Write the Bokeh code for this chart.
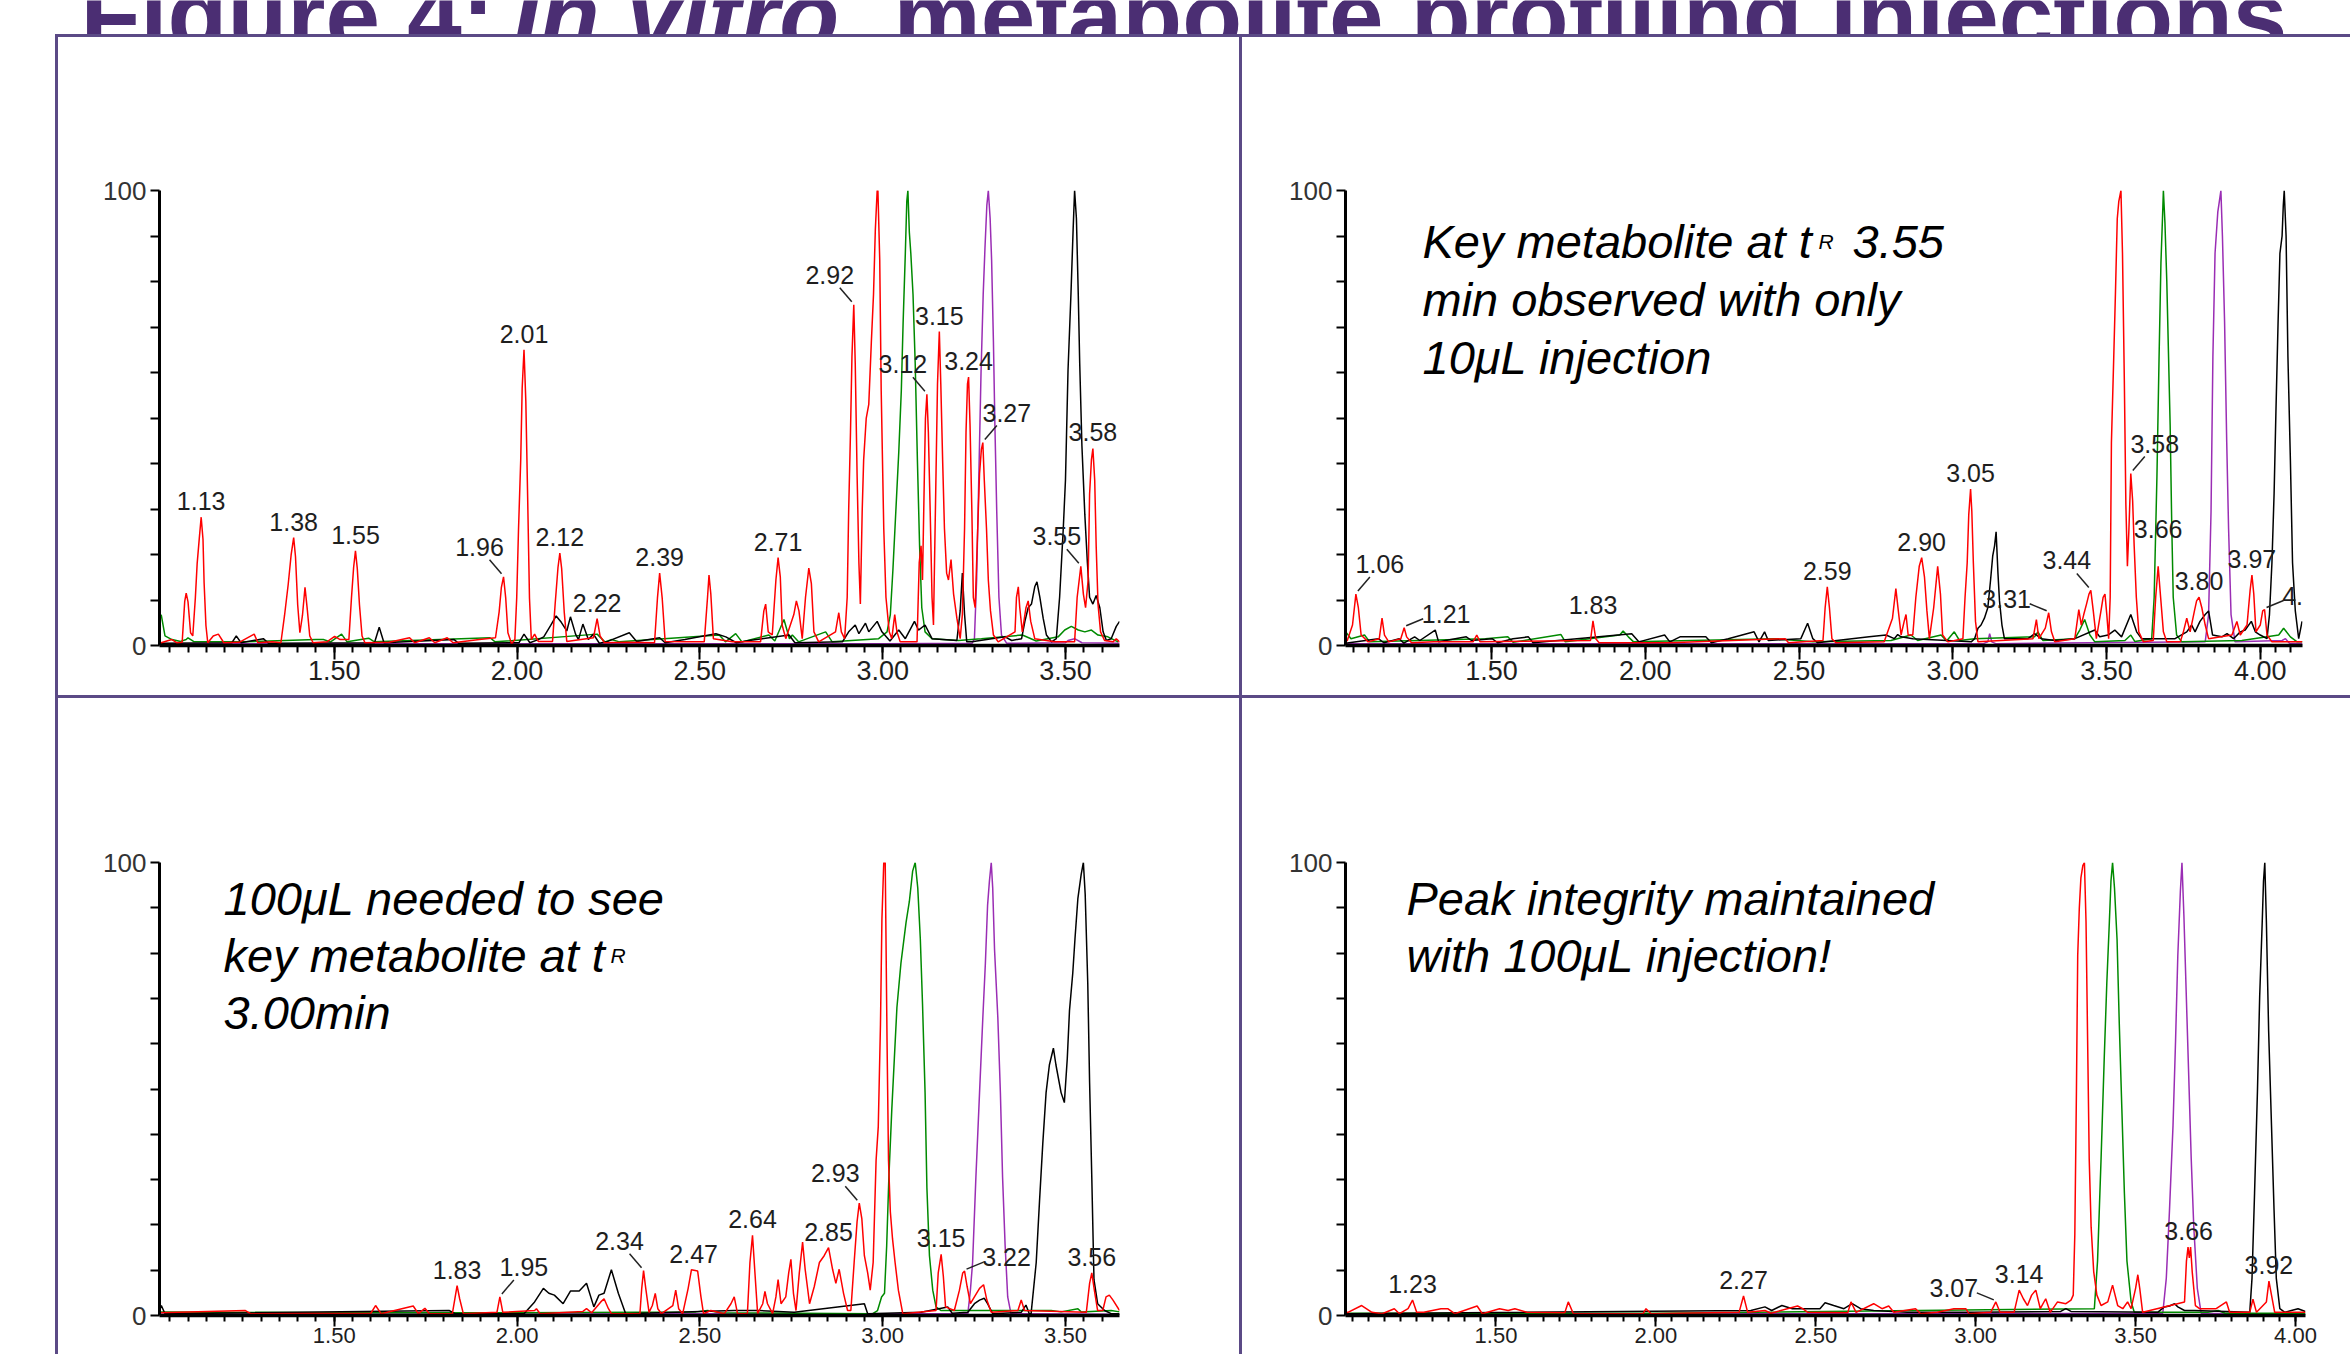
import math
from bokeh.plotting import figure
from bokeh.models import (Range1d, FixedTicker, CustomJSTickFormatter, Label, LabelSet,
                          ColumnDataSource, Div)
from bokeh.layouts import row
from bokeh.embed import file_html
from bokeh.resources import INLINE
from bokeh.core.properties import value

# ------------------------------------------------------------------ data
TITLE_PARTS = ["Figure 4:", "In vitro", "metabolite profiling injections"]
X_MAJOR = [1.5, 2.0, 2.5, 3.0, 3.5, 4.0]
X_MINOR = [round(1.05 + 0.05 * i, 2) for i in range(0, 62)]
Y_MAJOR = [0, 100]
Y_MINOR = [10, 20, 30, 40, 50, 60, 70, 80, 90]

# --- No dilution, 10 uL
TL_RED = [(1.022,0.5),(1.042,1.0),(1.056,1.3),(1.070,0.6),(1.084,0.7),(1.091,9.7),(1.095,11.5),(1.100,9.6),(1.107,2.8),(1.113,2.1),(1.120,10.4),(1.125,18.0),(1.131,23.7),(1.136,28.2),(1.141,23.3),(1.144,13.8),(1.149,4.4),(1.154,0.6),(1.169,2.1),(1.183,2.5),(1.198,0.6),(1.240,0.7),(1.281,2.5),(1.291,0.6),(1.330,0.8),(1.354,0.6),(1.364,6.6),(1.374,13.4),(1.382,19.9),(1.389,23.7),(1.394,19.5),(1.400,8.9),(1.406,2.8),(1.413,6.6),(1.420,12.8),(1.426,8.1),(1.433,2.1),(1.442,0.6),(1.480,0.8),(1.501,2.0),(1.516,1.3),(1.540,1.3),(1.547,10.4),(1.553,17.2),(1.558,20.8),(1.563,16.9),(1.569,8.9),(1.576,2.1),(1.584,0.6),(1.650,0.7),(1.706,1.7),(1.720,0.6),(1.760,1.7),(1.775,0.6),(1.809,1.7),(1.825,0.6),(1.897,1.3),(1.941,1.7),(1.951,7.4),(1.957,12.7),(1.963,15.1),(1.969,10.4),(1.975,2.8),(1.985,0.4),(1.994,1.3),(1.999,10.4),(2.004,25.6),(2.010,40.7),(2.014,56.6),(2.019,65.0),(2.024,53.6),(2.029,32.4),(2.034,10.4),(2.039,1.3),(2.048,2.5),(2.058,0.9),(2.097,0.9),(2.104,8.9),(2.112,17.2),(2.117,20.3),(2.122,16.9),(2.129,7.4),(2.136,0.9),(2.209,1.7),(2.219,5.9),(2.227,2.1),(2.239,0.6),(2.300,0.7),(2.376,0.6),(2.384,10.4),(2.390,15.9),(2.397,10.4),(2.405,0.9),(2.460,0.8),(2.512,0.8),(2.521,10.6),(2.525,15.5),(2.530,11.3),(2.537,1.5),(2.589,0.8),(2.666,0.8),(2.675,7.6),(2.680,9.1),(2.687,3.0),(2.698,2.3),(2.708,14.4),(2.714,19.3),(2.720,15.1),(2.725,4.5),(2.735,1.5),(2.757,6.8),(2.764,9.8),(2.771,7.6),(2.780,1.5),(2.789,10.6),(2.798,17.0),(2.805,13.6),(2.812,3.0),(2.825,0.8),(2.871,3.0),(2.880,7.2),(2.887,3.0),(2.896,1.5),(2.903,10.6),(2.907,29.5),(2.912,46.9),(2.916,63.5),(2.921,74.9),(2.925,62.0),(2.930,37.8),(2.935,18.2),(2.939,9.1),(2.944,29.5),(2.948,40.8),(2.955,49.9),(2.962,53.0),(2.969,66.6),(2.975,77.2),(2.980,91.5),(2.985,100),(2.987,100),(2.992,84.7),(2.996,56.0),(3.003,25.7),(3.009,10.6),(3.018,3.0),(3.025,1.5),(3.033,6.8),(3.039,3.0),(3.048,0.8),(3.094,0.8),(3.100,18.2),(3.105,21.9),(3.109,14.4),(3.114,37.1),(3.117,49.9),(3.121,55.2),(3.125,46.9),(3.130,29.5),(3.135,10.6),(3.139,4.5),(3.145,33.3),(3.150,57.5),(3.155,69.0),(3.159,57.5),(3.164,40.8),(3.169,25.7),(3.175,15.9),(3.180,14.4),(3.187,18.9),(3.194,11.3),(3.203,6.0),(3.212,1.5),(3.218,6.8),(3.224,25.7),(3.228,46.9),(3.232,57.5),(3.235,59.0),(3.239,48.4),(3.244,29.5),(3.248,10.6),(3.253,8.3),(3.260,25.7),(3.265,37.8),(3.270,43.1),(3.274,44.6),(3.278,36.3),(3.284,25.7),(3.289,14.4),(3.295,7.6),(3.303,2.3),(3.316,0.8),(3.362,3.0),(3.366,10.6),(3.371,12.9),(3.375,8.3),(3.382,3.0),(3.392,8.3),(3.398,9.8),(3.405,5.3),(3.416,1.5),(3.470,0.8),(3.525,0.8),(3.532,10.6),(3.542,17.4),(3.549,11.3),(3.555,8.3),(3.562,14.4),(3.566,33.3),(3.571,40.8),(3.575,43.3),(3.580,36.3),(3.584,21.9),(3.589,9.1),(3.596,3.0),(3.607,1.1),(3.630,0.8),(3.639,1.5),(3.648,0.8)]
TL_GREEN = [(1.022,7.0),(1.027,6.6),(1.037,2.1),(1.056,1.3),(1.080,0.9),(1.095,1.3),(1.100,1.7),(1.115,0.9),(1.250,0.8),(1.450,1.3),(1.470,1.3),(1.490,0.8),(1.520,2.5),(1.535,0.8),(1.594,1.6),(1.610,0.8),(1.926,1.7),(1.940,0.8),(2.219,2.5),(2.240,0.8),(2.258,1.3),(2.280,0.8),(2.553,2.3),(2.570,0.8),(2.598,2.6),(2.615,0.8),(2.689,2.3),(2.705,1.0),(2.730,5.7),(2.745,1.5),(2.753,2.3),(2.770,0.8),(2.844,3.0),(2.862,0.8),(2.989,1.5),(3.012,3.0),(3.021,6.8),(3.028,16.6),(3.036,29.5),(3.044,42.4),(3.051,56.0),(3.056,71.1),(3.062,86.2),(3.066,97.6),(3.069,100),(3.073,90.8),(3.077,86.2),(3.083,77.2),(3.089,62.0),(3.095,40.8),(3.101,21.9),(3.107,8.3),(3.116,3.0),(3.135,1.5),(3.207,1.1),(3.270,1.5),(3.382,2.3),(3.420,1.0),(3.480,1.9),(3.498,3.4),(3.516,4.2),(3.535,3.4),(3.553,3.0),(3.571,3.4),(3.589,2.3),(3.616,1.9),(3.644,0.8)]
TL_PURPLE = [(1.022,0.4),(2.000,0.4),(3.000,0.4),(3.245,0.5),(3.251,1.5),(3.257,14.4),(3.264,40.8),(3.269,59.8),(3.275,77.2),(3.280,87.7),(3.285,96.8),(3.289,100),(3.294,93.8),(3.298,84.7),(3.303,66.6),(3.307,48.4),(3.312,29.5),(3.318,10.6),(3.325,2.3),(3.339,0.5),(3.500,0.6),(3.507,1.1),(3.525,1.5),(3.545,0.6),(3.648,0.5)]
TL_BLACK = [(1.022,0.5),(1.220,0.6),(1.232,2.1),(1.245,0.6),(1.306,1.5),(1.320,0.5),(1.610,0.6),(1.623,4.0),(1.636,0.6),(1.828,1.3),(1.840,0.5),(2.005,0.6),(2.019,2.5),(2.035,0.6),(2.058,1.3),(2.073,1.9),(2.092,4.4),(2.107,6.5),(2.121,5.1),(2.136,3.2),(2.146,6.3),(2.160,2.5),(2.168,1.3),(2.180,4.7),(2.195,1.3),(2.209,2.5),(2.225,0.5),(2.248,0.9),(2.307,2.8),(2.327,0.9),(2.390,1.7),(2.405,0.6),(2.459,1.3),(2.484,1.7),(2.544,2.6),(2.571,1.9),(2.600,0.6),(2.635,1.1),(2.744,2.3),(2.760,0.6),(2.890,0.8),(2.907,3.0),(2.925,4.5),(2.935,2.6),(2.953,4.9),(2.962,3.0),(2.985,5.3),(2.998,3.0),(3.020,1.0),(3.044,3.4),(3.062,1.5),(3.087,5.3),(3.098,3.4),(3.116,4.5),(3.135,1.5),(3.203,1.1),(3.212,7.6),(3.218,15.9),(3.224,6.8),(3.230,0.8),(3.244,0.8),(3.298,1.5),(3.335,1.9),(3.353,1.1),(3.380,1.5),(3.389,5.3),(3.398,8.3),(3.407,9.1),(3.416,12.9),(3.422,14.0),(3.430,10.6),(3.439,6.0),(3.448,2.3),(3.462,0.8),(3.475,1.5),(3.484,10.6),(3.494,25.7),(3.500,36.3),(3.507,60.5),(3.515,77.2),(3.521,91.5),(3.525,100),(3.530,93.8),(3.535,77.2),(3.539,62.0),(3.545,43.9),(3.553,28.7),(3.560,18.2),(3.566,10.6),(3.575,9.1),(3.584,11.0),(3.594,8.3),(3.603,3.0),(3.612,1.1),(3.625,1.5),(3.639,4.2),(3.648,5.3)]
TL_PEAKS = [("1.13",1.136,28.2),("1.38",1.389,23.7),("1.55",1.558,20.8),("1.96",1.963,15.1),("2.01",2.019,65.0),("2.12",2.117,20.3),("2.22",2.219,5.9),("2.39",2.390,15.9),("2.71",2.714,19.3),("2.92",2.921,74.9),("2.98",2.986,100),("3.12",3.121,55.2),("3.15",3.155,69.0),("3.24",3.235,59.0),("3.27",3.274,44.6),("3.55",3.542,17.4),("3.58",3.575,43.3)]

# --- 250 uL mixer, 10 uL
TR_RED = [(1.025,0.8),(1.031,1.1),(1.048,4.5),(1.059,11.3),(1.067,8.3),(1.076,2.3),(1.099,0.8),(1.135,1.5),(1.144,6.0),(1.152,2.3),(1.166,0.8),(1.205,1.5),(1.216,3.9),(1.224,1.9),(1.240,0.6),(1.312,0.8),(1.440,0.8),(1.452,2.3),(1.463,0.8),(1.822,1.1),(1.830,5.4),(1.839,1.5),(1.850,0.6),(2.080,0.6),(2.455,1.5),(2.466,0.6),(2.578,1.1),(2.585,8.3),(2.592,12.9),(2.599,8.3),(2.607,1.5),(2.620,0.6),(2.777,0.8),(2.804,6.0),(2.815,12.5),(2.823,7.6),(2.832,2.3),(2.842,5.3),(2.848,6.8),(2.855,2.3),(2.870,2.3),(2.880,10.6),(2.891,17.4),(2.899,19.3),(2.908,15.1),(2.916,7.6),(2.924,1.5),(2.938,8.3),(2.951,17.4),(2.960,11.3),(2.967,2.3),(2.984,0.8),(3.033,1.5),(3.040,10.6),(3.047,18.2),(3.052,28.7),(3.058,34.4),(3.062,29.5),(3.067,18.2),(3.074,5.3),(3.082,0.8),(3.261,1.5),(3.272,5.7),(3.280,1.5),(3.301,3.8),(3.312,7.2),(3.321,3.0),(3.332,0.8),(3.397,1.5),(3.410,7.9),(3.418,4.5),(3.426,6.8),(3.435,9.1),(3.443,11.3),(3.449,12.1),(3.457,7.6),(3.467,1.5),(3.482,7.6),(3.489,10.6),(3.495,11.3),(3.501,6.8),(3.507,1.5),(3.512,10.6),(3.516,44.6),(3.523,62.0),(3.529,77.2),(3.535,93.8),(3.540,97.6),(3.547,100),(3.552,86.2),(3.558,58.2),(3.563,31.0),(3.568,17.4),(3.573,25.7),(3.579,37.8),(3.585,31.8),(3.590,21.9),(3.597,10.6),(3.605,3.0),(3.620,0.8),(3.652,1.1),(3.660,10.6),(3.668,17.4),(3.676,10.6),(3.685,3.0),(3.696,0.8),(3.740,0.8),(3.750,3.0),(3.761,6.0),(3.772,3.0),(3.786,7.6),(3.793,9.8),(3.801,10.6),(3.810,8.3),(3.821,4.5),(3.832,1.5),(3.908,2.3),(3.924,5.3),(3.935,2.3),(3.957,4.5),(3.967,12.1),(3.973,15.5),(3.979,11.3),(3.986,3.0),(4.000,4.5),(4.008,7.6),(4.014,7.9),(4.022,2.3),(4.038,0.8),(4.137,0.8)]
TR_GREEN = [(1.025,2.5),(1.026,3.0),(1.043,1.5),(1.087,2.3),(1.104,0.8),(1.480,1.5),(1.553,1.9),(1.570,0.7),(1.726,2.4),(1.740,0.8),(1.917,2.3),(1.928,3.2),(1.945,1.9),(1.962,0.8),(2.421,1.5),(2.545,0.8),(2.799,1.1),(2.864,2.3),(2.886,1.1),(2.962,2.3),(2.980,1.0),(3.005,3.0),(3.022,1.1),(3.071,1.5),(3.266,1.9),(3.277,3.0),(3.293,1.1),(3.397,1.5),(3.413,3.4),(3.429,5.7),(3.446,2.3),(3.462,0.8),(3.560,1.1),(3.579,2.3),(3.592,0.9),(3.647,1.5),(3.655,10.6),(3.664,37.1),(3.671,63.5),(3.677,84.0),(3.682,93.8),(3.685,100),(3.690,93.0),(3.696,80.2),(3.701,65.8),(3.707,48.4),(3.712,27.2),(3.717,10.6),(3.728,2.3),(3.745,0.8),(3.940,1.1),(4.060,2.3),(4.076,3.8),(4.098,1.9),(4.120,0.8),(4.137,0.8)]
TR_PURPLE = [(1.025,0.4),(3.100,0.4),(3.114,0.8),(3.120,2.6),(3.127,0.8),(3.140,0.4),(3.821,0.8),(3.832,6.8),(3.840,29.5),(3.846,63.5),(3.853,86.2),(3.862,95.3),(3.867,97.6),(3.872,100),(3.877,90.0),(3.884,71.1),(3.891,44.6),(3.897,25.7),(3.905,6.8),(3.918,0.8),(4.071,1.1),(4.082,1.5),(4.095,0.5),(4.137,0.4)]
TR_BLACK = [(1.025,0.5),(1.132,1.5),(1.150,0.6),(1.166,0.9),(1.200,1.5),(1.215,0.5),(1.250,1.9),(1.267,1.1),(1.317,3.4),(1.328,0.8),(1.418,1.9),(1.435,1.1),(1.502,1.5),(1.520,0.6),(1.570,1.5),(1.620,1.9),(1.635,0.6),(1.956,2.6),(1.979,0.8),(2.063,2.3),(2.080,0.8),(2.113,1.9),(2.147,1.9),(2.197,1.9),(2.215,0.6),(2.270,1.5),(2.354,3.0),(2.370,0.8),(2.388,3.0),(2.400,1.1),(2.506,1.5),(2.528,4.9),(2.545,1.5),(2.560,0.6),(2.728,1.9),(2.783,2.3),(2.810,1.5),(2.821,2.4),(2.832,1.9),(2.870,1.5),(3.060,0.8),(3.071,1.5),(3.082,3.8),(3.092,4.5),(3.103,6.0),(3.114,8.3),(3.123,14.4),(3.130,19.7),(3.136,21.9),(3.141,25.0),(3.147,15.9),(3.152,9.8),(3.160,4.5),(3.168,1.5),(3.245,1.5),(3.266,2.6),(3.288,1.5),(3.332,1.1),(3.397,1.5),(3.462,3.4),(3.478,1.9),(3.505,2.3),(3.527,3.4),(3.549,1.9),(3.579,6.8),(3.598,3.0),(3.614,1.5),(3.723,1.5),(3.761,3.0),(3.777,4.5),(3.788,3.0),(3.804,5.3),(3.821,6.8),(3.832,7.6),(3.845,2.3),(3.875,1.9),(3.892,2.6),(3.913,1.5),(3.935,3.0),(3.951,3.4),(3.971,5.3),(3.984,3.0),(4.000,2.3),(4.022,1.5),(4.030,6.8),(4.038,18.2),(4.045,33.3),(4.051,51.4),(4.058,71.1),(4.064,86.2),(4.071,90.0),(4.075,96.8),(4.078,100),(4.084,90.0),(4.090,63.5),(4.098,40.8),(4.105,18.2),(4.114,7.6),(4.125,1.5),(4.136,5.3)]
TR_PEAKS = [("1.06",1.059,11.3),("1.21",1.216,3.9),("1.83",1.830,5.4),("2.59",2.592,12.9),("2.90",2.899,19.3),("3.05",3.058,34.4),("3.31",3.312,7.2),("3.44",3.449,12.1),("3.55",3.547,100),("3.58",3.579,37.8),("3.66",3.668,17.4),("3.80",3.801,10.6),("3.97",3.973,15.5),("4.00",4.014,7.9)]

# --- No dilution, 100 uL
BL_RED = [(1.022,0.6),(1.257,1.1),(1.271,0.4),(1.600,0.5),(1.613,2.2),(1.628,0.4),(1.716,2.1),(1.730,0.4),(1.748,1.6),(1.760,0.4),(1.823,0.4),(1.830,3.7),(1.836,6.6),(1.843,3.7),(1.853,0.4),(1.945,0.7),(1.953,4.1),(1.961,0.7),(2.048,1.1),(2.053,1.5),(2.063,0.4),(2.180,0.9),(2.190,1.5),(2.204,0.6),(2.229,3.0),(2.238,3.7),(2.250,1.5),(2.258,0.4),(2.336,0.4),(2.341,6.0),(2.346,9.9),(2.352,6.0),(2.361,0.7),(2.370,2.2),(2.378,4.9),(2.385,1.5),(2.395,0.4),(2.426,2.2),(2.434,5.6),(2.442,1.5),(2.453,0.4),(2.468,6.0),(2.477,10.1),(2.494,9.8),(2.503,4.1),(2.510,0.4),(2.530,1.1),(2.567,0.4),(2.585,2.6),(2.594,4.1),(2.603,0.4),(2.630,0.4),(2.637,11.7),(2.644,17.7),(2.650,10.2),(2.658,0.4),(2.672,2.6),(2.678,5.3),(2.685,2.6),(2.699,0.4),(2.708,4.1),(2.714,7.9),(2.722,2.6),(2.735,4.1),(2.743,9.4),(2.749,12.4),(2.756,4.9),(2.763,1.1),(2.772,9.4),(2.781,16.2),(2.788,10.2),(2.800,2.6),(2.813,6.4),(2.827,11.7),(2.840,13.2),(2.852,15.0),(2.863,10.2),(2.872,7.1),(2.881,10.2),(2.893,4.9),(2.904,1.1),(2.913,1.1),(2.922,11.7),(2.930,20.7),(2.936,24.8),(2.943,21.4),(2.950,13.2),(2.959,9.4),(2.966,5.6),(2.974,11.7),(2.982,34.2),(2.988,41.7),(2.994,64.3),(2.998,87.6),(3.003,100),(3.007,100),(3.012,60.5),(3.016,34.2),(3.021,22.9),(3.027,16.9),(3.034,11.7),(3.043,5.6),(3.055,0.4),(3.146,1.1),(3.152,9.4),(3.160,13.5),(3.166,8.6),(3.172,1.9),(3.196,1.1),(3.210,5.6),(3.219,9.4),(3.224,9.8),(3.231,6.4),(3.240,2.6),(3.251,4.1),(3.265,6.0),(3.276,6.8),(3.285,3.4),(3.297,0.7),(3.370,1.1),(3.379,3.4),(3.388,1.1),(3.557,0.7),(3.566,7.1),(3.572,9.4),(3.579,5.6),(3.588,1.1),(3.602,1.1),(3.611,4.1),(3.620,4.5),(3.630,3.4),(3.648,1.1)]
BL_GREEN = [(1.022,0.8),(1.500,0.6),(2.000,0.6),(2.489,0.8),(2.521,1.1),(2.557,0.6),(2.973,0.4),(2.986,1.1),(2.997,4.1),(3.005,4.9),(3.011,15.4),(3.017,30.5),(3.025,45.5),(3.032,56.8),(3.039,68.0),(3.050,77.8),(3.064,86.8),(3.073,91.4),(3.082,98.1),(3.089,100),(3.096,94.4),(3.103,83.1),(3.109,68.8),(3.116,49.2),(3.121,28.2),(3.128,13.2),(3.137,5.6),(3.146,1.9),(3.160,1.1),(3.461,1.1),(3.488,0.8),(3.534,1.5),(3.543,0.8),(3.625,1.1),(3.648,0.8)]
BL_PURPLE = [(1.022,0.3),(3.233,0.4),(3.240,5.6),(3.246,11.7),(3.255,30.5),(3.265,49.2),(3.274,65.8),(3.281,77.8),(3.287,90.6),(3.292,95.9),(3.297,100),(3.301,94.4),(3.306,80.8),(3.315,65.8),(3.322,49.2),(3.328,30.5),(3.335,15.4),(3.342,4.1),(3.351,0.4),(3.648,0.3)]
BL_BLACK = [(1.022,1.0),(1.027,2.2),(1.037,0.4),(1.814,1.1),(1.830,0.4),(2.019,0.4),(2.048,3.0),(2.072,6.0),(2.087,4.9),(2.102,4.5),(2.126,2.6),(2.146,5.4),(2.170,5.4),(2.190,7.1),(2.210,1.9),(2.224,4.5),(2.238,4.9),(2.258,10.1),(2.277,4.9),(2.297,0.4),(2.594,1.1),(2.662,1.1),(2.758,0.7),(2.950,2.6),(2.959,0.4),(3.105,0.7),(3.178,1.9),(3.190,0.5),(3.233,0.7),(3.251,2.6),(3.265,3.4),(3.278,3.8),(3.287,2.6),(3.301,0.4),(3.379,0.7),(3.392,2.3),(3.401,0.4),(3.406,0.4),(3.420,11.7),(3.429,25.2),(3.438,38.0),(3.447,49.2),(3.456,55.3),(3.467,59.0),(3.474,55.3),(3.488,49.2),(3.497,47.0),(3.505,56.8),(3.511,67.3),(3.520,75.6),(3.526,83.1),(3.534,92.1),(3.543,97.4),(3.549,100),(3.554,92.9),(3.561,73.3),(3.566,51.5),(3.572,30.5),(3.578,7.9),(3.588,2.6),(3.607,1.1),(3.625,0.4),(3.648,0.4)]
BL_PEAKS = [("1.83",1.836,6.6),("1.95",1.953,4.1),("2.34",2.346,9.9),("2.47",2.483,10.1),("2.64",2.644,17.7),("2.85",2.852,15.0),("2.93",2.936,24.8),("3.00",3.005,100),("3.15",3.160,13.5),("3.22",3.224,9.8),("3.56",3.572,9.4)]

# --- 250 uL mixer, 100 uL
BR_RED = [(1.029,0.6),(1.037,0.7),(1.080,2.2),(1.112,0.7),(1.144,0.4),(1.182,1.5),(1.198,0.4),(1.225,1.5),(1.239,3.4),(1.252,0.7),(1.274,0.7),(1.328,1.5),(1.349,1.5),(1.371,0.4),(1.441,2.1),(1.457,0.4),(1.511,1.5),(1.538,1.1),(1.559,1.5),(1.597,0.7),(1.715,0.6),(1.726,3.0),(1.742,0.4),(1.960,0.4),(1.969,1.5),(1.985,0.4),(2.260,0.7),(2.274,4.3),(2.287,0.7),(2.341,1.1),(2.360,0.5),(2.443,2.1),(2.459,1.5),(2.475,0.7),(2.600,0.6),(2.610,3.0),(2.626,0.7),(2.681,2.6),(2.707,1.5),(2.728,2.1),(2.744,0.7),(2.812,1.5),(2.828,0.4),(2.880,0.7),(2.932,1.5),(2.969,1.5),(2.979,0.4),(3.047,0.7),(3.063,3.0),(3.076,0.7),(3.120,0.7),(3.136,5.6),(3.149,3.7),(3.162,2.2),(3.175,4.5),(3.188,5.6),(3.202,1.5),(3.219,3.7),(3.233,0.7),(3.256,3.0),(3.282,2.6),(3.298,3.4),(3.305,4.5),(3.310,18.0),(3.315,49.4),(3.319,79.4),(3.324,89.9),(3.329,96.6),(3.335,99.3),(3.340,100),(3.345,86.9),(3.350,60.7),(3.355,34.5),(3.361,19.5),(3.369,9.7),(3.379,4.5),(3.392,2.2),(3.413,3.0),(3.428,6.7),(3.444,2.2),(3.460,1.5),(3.475,3.0),(3.486,1.5),(3.500,6.0),(3.507,9.0),(3.513,6.0),(3.522,0.7),(3.653,3.0),(3.659,12.0),(3.664,15.1),(3.668,12.7),(3.672,15.1),(3.677,9.7),(3.687,2.2),(3.700,1.5),(3.726,1.5),(3.752,1.5),(3.784,3.0),(3.794,0.7),(3.857,0.7),(3.867,3.6),(3.878,0.7),(3.909,3.0),(3.917,7.6),(3.925,4.5),(3.935,0.7),(4.031,0.7)]
BR_GREEN = [(1.029,0.5),(2.000,0.5),(3.371,1.5),(3.381,12.0),(3.392,34.5),(3.402,56.9),(3.410,73.4),(3.418,86.9),(3.423,95.9),(3.428,100),(3.434,94.4),(3.442,83.1),(3.449,64.4),(3.457,45.7),(3.465,27.0),(3.473,12.0),(3.486,3.0),(3.496,0.7),(3.726,0.7),(3.758,1.1),(3.780,0.5),(4.031,0.5)]
BR_PURPLE = [(1.029,0.3),(3.585,0.5),(3.596,8.2),(3.606,23.2),(3.617,41.9),(3.625,60.7),(3.632,79.4),(3.640,93.6),(3.645,100),(3.651,88.4),(3.658,71.9),(3.666,53.2),(3.674,34.5),(3.682,19.5),(3.693,6.0),(3.705,0.5),(4.031,0.3)]
BR_BLACK = [(1.029,0.4),(2.297,1.1),(2.341,1.9),(2.362,1.1),(2.394,2.2),(2.427,1.5),(2.513,1.5),(2.529,2.8),(2.556,2.2),(2.588,1.5),(2.614,2.6),(2.640,1.5),(2.681,1.1),(2.786,0.7),(2.995,0.7),(3.266,0.9),(3.282,1.5),(3.298,0.9),(3.569,0.7),(3.590,1.9),(3.606,2.1),(3.622,2.6),(3.632,1.9),(3.653,1.1),(3.684,1.1),(3.857,0.7),(3.864,8.2),(3.872,27.0),(3.881,49.4),(3.888,70.4),(3.896,86.9),(3.900,95.9),(3.904,100),(3.909,86.9),(3.916,62.9),(3.925,41.9),(3.933,23.2),(3.940,8.2),(3.951,1.5),(3.967,0.7),(3.987,1.1),(4.008,1.5),(4.031,0.9)]
BR_PEAKS = [("1.23",1.239,3.4),("2.27",2.274,4.3),("3.07",3.063,3.0),("3.14",3.136,5.6),("3.34",3.340,100),("3.66",3.666,15.1),("3.92",3.917,7.6)]

HEADINGS = {"TL": ("No dilution", "10\u03bcL"), "TR": ("250\u03bcL mixer", "10\u03bcL"),
            "BL": ("No dilution", "100\u03bcL"), "BR": ("250\u03bcL mixer", "100\u03bcL")}
NOTES = {"TR": ["Key metabolite at t", "min observed with only", "10\u03bcL injection"],
         "BL": ["100\u03bcL needed to see", "key metabolite at t", "3.00min"],
         "BR": ["Peak integrity maintained", "with 100\u03bcL injection!"]}
NOTE_TAIL = {"TR": "3.55"}

# ------------------------------------------------------------------ styles / layout
FONT = "Liberation Sans"
RED, GREEN, PURPLE, BLACK = "#ff0000", "#008a00", "#9a2db4", "#000000"
LINE_PURPLE = "#5b4a86"
TITLE_PURPLE = "#4b2e73"
TXT = "#1e1e1e"

LEADER = {
    "TL": {"1.96": "ul", "2.92": "ul", "3.12": "ul", "3.27": "ur", "3.55": "ul"},
    "TR": {"1.06": "ur", "1.21": "sr", "3.31": "sl", "3.44": "ul", "3.58": "ur", "3.66": "hi", "4.00": "sr"},
    "BL": {"1.95": "ur", "2.34": "ul", "2.93": "ul", "3.22": "sr"},
    "BR": {"3.07": "sl"},
}
KIND = {"c": (0, 16, None), "hi": (0, 37, None),
        "ul": (-24, 30, ((-2, 3), (-14, 17))), "ur": (24, 30, ((2, 3), (14, 17))),
        "sl": (-42, 14, ((-2, 2), (-19, 9))), "sr": (42, 14, ((2, 2), (19, 9)))}

# page-pixel geometry (page origin at top-left of the window)
GEOM = {
    "TL": dict(ox=58, oy=37, w=1181, h=658, fx0=159, fx1=1119, fyt=190, fyb=645,
               t0=1.022, t1=3.6478, tick=14, minor=7, lab=27),
    "TR": dict(ox=1242, oy=37, w=1108, h=658, fx0=1345, fx1=2302, fyt=190, fyb=645,
               t0=1.0252, t1=4.1374, tick=14, minor=7, lab=27),
    "BL": dict(ox=58, oy=698, w=1181, h=656, fx0=159, fx1=1119, fyt=862, fyb=1315,
               t0=1.022, t1=3.6478, tick=11, minor=6, lab=22),
    "BR": dict(ox=1242, oy=698, w=1108, h=656, fx0=1345, fx1=2305, fyt=862, fyb=1315,
               t0=1.0294, t1=4.0313, tick=11, minor=6, lab=22),
}
TRACES = {
    "TL": [(PURPLE, TL_PURPLE), (GREEN, TL_GREEN), (BLACK, TL_BLACK), (RED, TL_RED)],
    "TR": [(PURPLE, TR_PURPLE), (GREEN, TR_GREEN), (BLACK, TR_BLACK), (RED, TR_RED)],
    "BL": [(PURPLE, BL_PURPLE), (GREEN, BL_GREEN), (BLACK, BL_BLACK), (RED, BL_RED)],
    "BR": [(PURPLE, BR_PURPLE), (GREEN, BR_GREEN), (BLACK, BR_BLACK), (RED, BR_RED)],
}
PEAKS = {"TL": TL_PEAKS, "TR": TR_PEAKS, "BL": BL_PEAKS, "BR": BR_PEAKS}


def mpp(g):
    return (g["t1"] - g["t0"]) / (g["fx1"] - g["fx0"])


def ppp(g):
    return 100.0 / (g["fyb"] - g["fyt"])


def put(p, g, X, Y, text, size, align="left", style="italic", color="black",
        font=FONT, angle=0.0, baseline="alphabetic"):
    # anchor on the frame's top-left corner (always inside the plot) and move the
    # text to page position (X, Y) with pixel offsets (y_offset positive = up)
    p.add_layout(Label(x=g["t0"], y=100, x_offset=X - g["fx0"], y_offset=g["fyt"] - Y,
                       text=text, text_font=font, text_font_size=f"{size}px",
                       text_font_style=style, text_align=align, text_baseline=baseline,
                       text_color=color, angle=angle))


def make_panel(key):
    g = GEOM[key]
    p = figure(width=g["w"], height=g["h"],
               x_range=Range1d(g["t0"], g["t1"]), y_range=Range1d(0, 100),
               output_backend="svg", toolbar_location=None,
               min_border_left=g["fx0"] - g["ox"], min_border_right=g["ox"] + g["w"] - g["fx1"],
               min_border_top=g["fyt"] - g["oy"], min_border_bottom=g["oy"] + g["h"] - g["fyb"])
    p.outline_line_color = None
    p.xgrid.visible = False
    p.ygrid.visible = False
    p.background_fill_color = "white"
    p.border_fill_color = "white"

    xa = p.xaxis[0]
    xa.ticker = FixedTicker(ticks=X_MAJOR, minor_ticks=X_MINOR)
    xa.formatter = CustomJSTickFormatter(code="return tick.toFixed(2);")
    xa.axis_line_width = 3.5
    xa.axis_line_color = "black"
    xa.major_tick_out = g["tick"]
    xa.major_tick_in = 0
    xa.minor_tick_out = g["minor"]
    xa.minor_tick_in = 0
    xa.major_tick_line_width = 2
    xa.minor_tick_line_width = 2
    xa.major_label_standoff = 1
    xa.major_label_text_font = FONT
    xa.major_label_text_font_size = f"{g['lab']}px"
    xa.major_label_text_color = TXT

    ya = p.yaxis[0]
    ya.ticker = FixedTicker(ticks=Y_MAJOR, minor_ticks=Y_MINOR)
    ya.axis_line_width = 3
    ya.major_tick_out = 9
    ya.major_tick_in = 0
    ya.minor_tick_out = 9
    ya.minor_tick_in = 0
    ya.major_tick_line_width = 2
    ya.minor_tick_line_width = 2
    ya.major_label_standoff = 4
    ya.major_label_text_font = FONT
    ya.major_label_text_font_size = "26px"
    ya.major_label_text_color = "#333333"

    for color, pts in TRACES[key]:
        p.line([a for a, b in pts], [b for a, b in pts], line_color=color, line_width=1.5)

    groups = {}
    lx0, ly0, lx1, ly1 = [], [], [], []
    for text, t, h in PEAKS[key]:
        kind = LEADER[key].get(text, "c")
        groups.setdefault(kind, ([], [], []))
        groups[kind][0].append(t)
        groups[kind][1].append(h)
        groups[kind][2].append(text)
        lead = KIND[kind][2]
        if lead:
            (a0, b0), (a1, b1) = lead
            lx0.append(t + a0 * mpp(g)); ly0.append(h + b0 * ppp(g))
            lx1.append(t + a1 * mpp(g)); ly1.append(h + b1 * ppp(g))
    if lx0:
        p.segment(x0=lx0, y0=ly0, x1=lx1, y1=ly1, line_color="#222222", line_width=1.5)
    for kind, (xs, ys, texts) in groups.items():
        dx, dy, _ = KIND[kind]
        src = ColumnDataSource(dict(x=xs, y=ys, text=texts))
        p.add_layout(LabelSet(x="x", y="y", text="text", x_offset=dx, y_offset=dy, source=src,
                              text_align="center", text_baseline="middle",
                              text_font=value(FONT), text_font_size="25px", text_color=TXT))

    p.add_layout(Label(x=g["t1"], y=0, x_offset=13, y_offset=-3, text="Time", text_font=FONT,
                       text_font_size="27px", text_baseline="middle", text_color=TXT))
    ymid = (g["fyt"] + g["fyb"]) / 2.0
    put(p, g, g["fx0"] - 21, ymid, "%", 22, align="center", style="normal", color="#333333",
        angle=math.pi / 2, baseline="middle")
    put(p, g, g["fx0"] - 75, ymid, "\u25a0", 19, align="center", style="normal", color=RED,
        font="DejaVu Sans", baseline="middle")

    top = g["oy"] + 73
    left_txt, right_txt = HEADINGS[key]
    put(p, g, g["ox"] + (21 if key[1] == "L" else 23), top, left_txt, 63)
    if key[1] == "L":
        put(p, g, g["ox"] + 1151, top, right_txt, 63, align="right")
    else:
        put(p, g, g["ox"] + (1031 if key == "TR" else 996), top, right_txt, 63)
    return p


TL = make_panel("TL")
TR = make_panel("TR")
BL = make_panel("BL")
BR = make_panel("BR")

gTR, gBL, gBR = GEOM["TR"], GEOM["BL"], GEOM["BR"]
for i, line in enumerate(NOTES["TR"]):
    put(TR, gTR, 1422, 241 + 58 * i, line, 47)
put(TR, gTR, 1818, 241, "R", 21)
put(TR, gTR, 1852, 241, NOTE_TAIL["TR"], 47)
for i, line in enumerate(NOTES["BL"]):
    put(BL, gBL, 223, 898 + 57 * i, line, 47)
put(BL, gBL, 610, 955, "R", 21)
for i, line in enumerate(NOTES["BR"]):
    put(BR, gBR, 1406, 898 + 57 * i, line, 47)

# title strip: page y 0..34 (data y = 34 - page y), cropped at the top like the source.
# (font size deliberately not "100px": the SVG font parser mis-reads "bold 100px")
title = figure(width=2350, height=34, x_range=Range1d(0, 2350), y_range=Range1d(0, 34),
               x_axis_type=None, y_axis_type=None, output_backend="svg",
               toolbar_location=None, min_border=0)
title.outline_line_color = None
title.background_fill_color = "white"
title.border_fill_color = "white"
for txt, x0, st in zip(TITLE_PARTS, [80, 512, 893], ["bold", "bold italic", "bold"]):
    title.add_layout(Label(x=x0, y=18.4, text=txt, text_font=FONT, text_font_size="98px",
                           text_font_style=st, text_baseline="alphabetic",
                           text_color=TITLE_PURPLE))


def block(w, h, color=None):
    styles = {"background-color": color} if color else {}
    return Div(width=w, height=h, margin=0, styles=styles)


# separate stacked roots, each a single row
roots = [
    title,
    row(block(55, 3), block(3, 3, LINE_PURPLE), block(2292, 3, LINE_PURPLE)),
    row(block(55, 658), block(3, 658, LINE_PURPLE), TL, block(3, 658, LINE_PURPLE), TR),
    row(block(55, 3), block(3, 3, LINE_PURPLE), block(2292, 3, LINE_PURPLE)),
    row(block(55, 656), block(3, 656, LINE_PURPLE), BL, block(3, 656, LINE_PURPLE), BR),
]

open("out.html", "w").write(file_html(roots, INLINE, title="In vitro metabolite profiling injections"))
